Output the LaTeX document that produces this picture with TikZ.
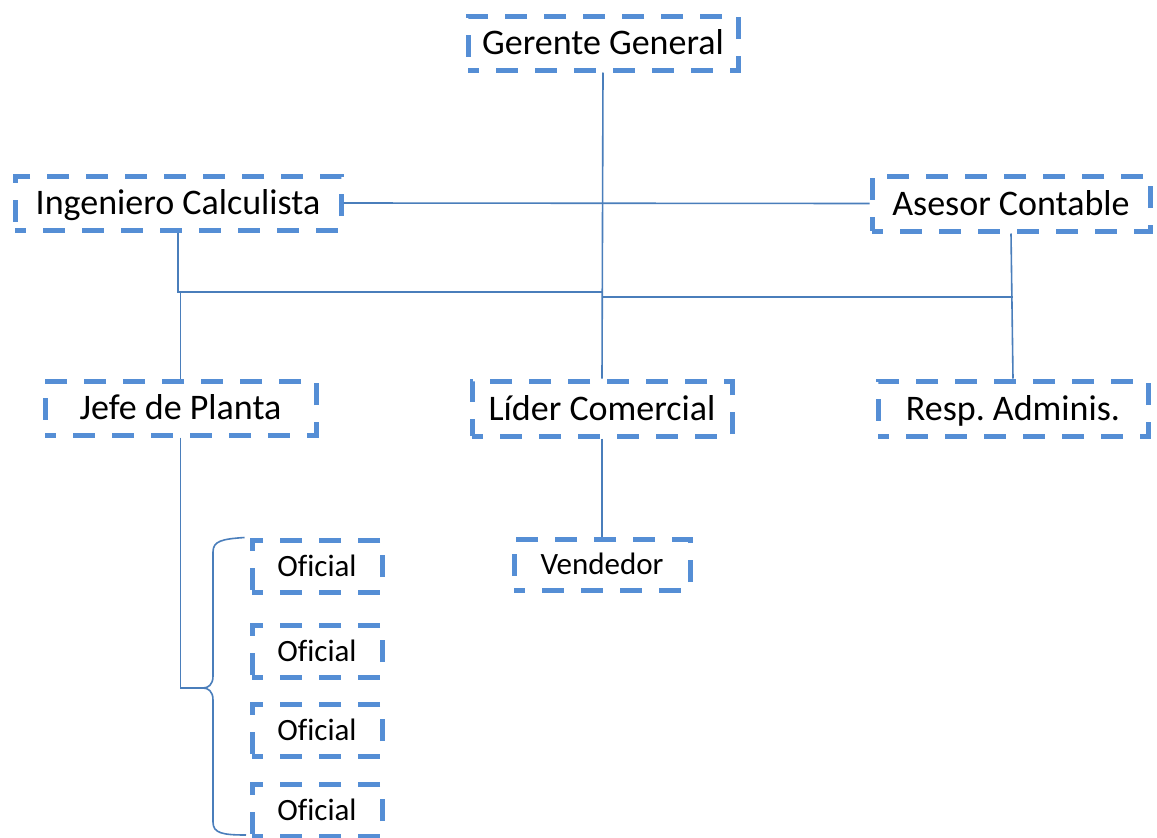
\documentclass[tikz,border=0pt]{standalone}
\usepackage{fontspec}
\setmainfont[Ligatures=NoCommon]{Carlito}
\frenchspacing
\definecolor{boxblue}{RGB}{85,142,213}
\definecolor{linkblue}{RGB}{74,126,187}
\begin{document}
\begin{tikzpicture}[x=1pt,y=-1pt,
  orgbox/.style={draw=boxblue, line width=5pt, dash pattern=on 22pt off 17pt, dash phase=11pt,
    inner sep=0pt, align=center, text=black, text depth=0pt},
  big/.style={orgbox, font=\fontsize{36}{40}\selectfont, text height=23pt},
  small/.style={orgbox, font=\fontsize{31}{36}\selectfont, text height=20pt},
  conn/.style={draw=linkblue, line width=1.6pt}]
\useasboundingbox[fill=white] (0,0) rectangle (1157,838);
\begin{scope}
\clip (0,0) rectangle (1157,838);
\node[big, minimum width=270pt, minimum height=54pt] (ger) at (603,43) {Gerente General};
\node[big, minimum width=326pt, minimum height=54pt] (ing) at (178,203) {Ingeniero Calculista};
\node[big, minimum width=278pt, minimum height=55pt] (ase) at (1011,203.5) {Asesor Contable};
\node[big, minimum width=271pt, minimum height=54pt] (jef) at (180.5,408) {Jefe de Planta};
\node[big, minimum width=260pt, minimum height=55pt] (lid) at (602,408.5) {Líder Comercial};
\node[big, minimum width=270pt, minimum height=55pt] (res) at (1013,408.5) {Resp. Adminis.};
\node[small, minimum width=176pt, minimum height=51pt] (ven) at (602,564.5) {Vendedor};
\node[small, minimum width=130pt, minimum height=52pt] (of1) at (317,566) {Oficial};
\node[small, minimum width=130pt, minimum height=52pt] (of2) at (317,651) {Oficial};
\node[small, minimum width=130pt, minimum height=52pt] (of3) at (317,730) {Oficial};
\node[small, minimum width=130pt, minimum height=52pt] (of4) at (317,810) {Oficial};

\coordinate (busL) at (602,292);
\coordinate (busR) at (602,297);
\coordinate (tip) at (203,688);

\draw[conn] (ger.south) -- (lid.north);
\draw[conn] (ing.east) -- (ase.west);
\draw[conn] (ing.south) |- (busL);
\draw[conn] (jef.north) -- (jef.north |- busL);
\draw[conn] (ase.south) -- (res.north);
\draw[conn] (busR) -- (busR -| res.north);
\draw[conn] (lid.south) -- (ven.north);
\draw[conn] (jef.south) |- (tip);
\draw[conn] (of1.north west) ++(-5,0) .. controls (222,539) and (213,541) .. (213,552)
  -- (213,676) .. controls (213,685) and (208,688) .. (tip)
  .. controls (208,688) and (213,691) .. (213,700)
  -- (213,822) .. controls (213,833) and (222,835) .. (246,835);
\end{scope}
\end{tikzpicture}
\end{document}
